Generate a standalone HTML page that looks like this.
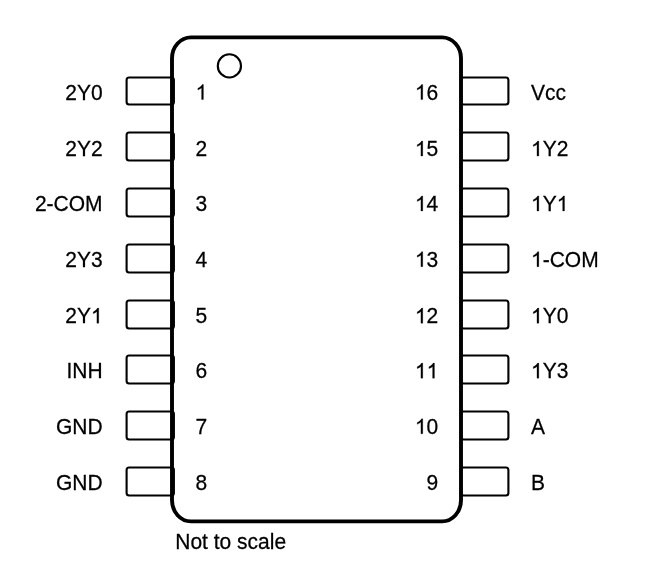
<!DOCTYPE html>
<html><head><meta charset="utf-8"><style>
html,body{margin:0;padding:0;background:#fff;}
svg{display:block;will-change:transform;}
text{font-family:"Liberation Sans",sans-serif;font-size:21.0px;fill:#000;}
</style></head><body>
<svg width="655" height="563" viewBox="0 0 655 563">
<rect x="0" y="0" width="655" height="563" fill="#fff"/>
<g fill="none" stroke="#000" stroke-width="2.1">
<rect x="126.6" y="77.50" width="47.3" height="27" rx="2.5" ry="2.5"/>
<rect x="461.1" y="77.50" width="47.3" height="27" rx="2.5" ry="2.5"/>
<rect x="126.6" y="132.50" width="47.3" height="28" rx="2.5" ry="2.5"/>
<rect x="461.1" y="132.50" width="47.3" height="28" rx="2.5" ry="2.5"/>
<rect x="126.6" y="188.50" width="47.3" height="28" rx="2.5" ry="2.5"/>
<rect x="461.1" y="188.50" width="47.3" height="28" rx="2.5" ry="2.5"/>
<rect x="126.6" y="244.50" width="47.3" height="28" rx="2.5" ry="2.5"/>
<rect x="461.1" y="244.50" width="47.3" height="28" rx="2.5" ry="2.5"/>
<rect x="126.6" y="300.50" width="47.3" height="28" rx="2.5" ry="2.5"/>
<rect x="461.1" y="300.50" width="47.3" height="28" rx="2.5" ry="2.5"/>
<rect x="126.6" y="355.50" width="47.3" height="28" rx="2.5" ry="2.5"/>
<rect x="461.1" y="355.50" width="47.3" height="28" rx="2.5" ry="2.5"/>
<rect x="126.6" y="411.50" width="47.3" height="28" rx="2.5" ry="2.5"/>
<rect x="461.1" y="411.50" width="47.3" height="28" rx="2.5" ry="2.5"/>
<rect x="126.6" y="467.50" width="47.3" height="28" rx="2.5" ry="2.5"/>
<rect x="461.1" y="467.50" width="47.3" height="28" rx="2.5" ry="2.5"/>
</g>
<rect x="172" y="37.35" width="289" height="484" rx="19" ry="21" fill="none" stroke="#000" stroke-width="3.9"/>
<circle cx="229.4" cy="65.9" r="11.6" fill="none" stroke="#000" stroke-width="2.1"/>
<g fill="#000" stroke="#000" stroke-width="0.25">
<text transform="translate(65.23,99.60) scale(1,1.04)">2Y0</text>
<path transform="translate(195.60,99.60) scale(0.010254,-0.010254)" d="M763 0L583 0L583 1147Q518 1085 412 1023Q306 961 222 930L222 1104Q373 1175 486 1276Q599 1377 646 1472L763 1472Z" vector-effect="non-scaling-stroke"/>
<path transform="translate(414.94,99.60) scale(0.010254,-0.010254)" d="M763 0L583 0L583 1147Q518 1085 412 1023Q306 961 222 930L222 1104Q373 1175 486 1276Q599 1377 646 1472L763 1472Z" vector-effect="non-scaling-stroke"/>
<text transform="translate(426.62,99.60) scale(1,1.04)">6</text>
<text transform="translate(531.00,99.60) scale(1,1.04)">Vcc</text>
<text transform="translate(65.23,156.10) scale(1,1.04)">2Y2</text>
<text transform="translate(195.60,156.10) scale(1,1.04)">2</text>
<path transform="translate(414.94,156.10) scale(0.010254,-0.010254)" d="M763 0L583 0L583 1147Q518 1085 412 1023Q306 961 222 930L222 1104Q373 1175 486 1276Q599 1377 646 1472L763 1472Z" vector-effect="non-scaling-stroke"/>
<text transform="translate(426.62,156.10) scale(1,1.04)">5</text>
<path transform="translate(531.00,156.10) scale(0.010254,-0.010254)" d="M763 0L583 0L583 1147Q518 1085 412 1023Q306 961 222 930L222 1104Q373 1175 486 1276Q599 1377 646 1472L763 1472Z" vector-effect="non-scaling-stroke"/>
<text transform="translate(542.68,156.10) scale(1,1.04)">Y2</text>
<text transform="translate(34.93,211.00) scale(1,1.04)">2-COM</text>
<text transform="translate(195.60,211.00) scale(1,1.04)">3</text>
<path transform="translate(414.94,211.00) scale(0.010254,-0.010254)" d="M763 0L583 0L583 1147Q518 1085 412 1023Q306 961 222 930L222 1104Q373 1175 486 1276Q599 1377 646 1472L763 1472Z" vector-effect="non-scaling-stroke"/>
<text transform="translate(426.62,211.00) scale(1,1.04)">4</text>
<path transform="translate(531.00,211.00) scale(0.010254,-0.010254)" d="M763 0L583 0L583 1147Q518 1085 412 1023Q306 961 222 930L222 1104Q373 1175 486 1276Q599 1377 646 1472L763 1472Z" vector-effect="non-scaling-stroke"/>
<text transform="translate(542.68,211.00) scale(1,1.04)">Y</text>
<path transform="translate(556.69,211.00) scale(0.010254,-0.010254)" d="M763 0L583 0L583 1147Q518 1085 412 1023Q306 961 222 930L222 1104Q373 1175 486 1276Q599 1377 646 1472L763 1472Z" vector-effect="non-scaling-stroke"/>
<text transform="translate(65.23,266.73) scale(1,1.04)">2Y3</text>
<text transform="translate(195.60,266.73) scale(1,1.04)">4</text>
<path transform="translate(414.94,266.73) scale(0.010254,-0.010254)" d="M763 0L583 0L583 1147Q518 1085 412 1023Q306 961 222 930L222 1104Q373 1175 486 1276Q599 1377 646 1472L763 1472Z" vector-effect="non-scaling-stroke"/>
<text transform="translate(426.62,266.73) scale(1,1.04)">3</text>
<path transform="translate(531.00,266.73) scale(0.010254,-0.010254)" d="M763 0L583 0L583 1147Q518 1085 412 1023Q306 961 222 930L222 1104Q373 1175 486 1276Q599 1377 646 1472L763 1472Z" vector-effect="non-scaling-stroke"/>
<text transform="translate(542.68,266.73) scale(1,1.04)">-COM</text>
<text transform="translate(65.23,323.20) scale(1,1.04)">2Y</text>
<path transform="translate(90.92,323.20) scale(0.010254,-0.010254)" d="M763 0L583 0L583 1147Q518 1085 412 1023Q306 961 222 930L222 1104Q373 1175 486 1276Q599 1377 646 1472L763 1472Z" vector-effect="non-scaling-stroke"/>
<text transform="translate(195.60,323.20) scale(1,1.04)">5</text>
<path transform="translate(414.94,323.20) scale(0.010254,-0.010254)" d="M763 0L583 0L583 1147Q518 1085 412 1023Q306 961 222 930L222 1104Q373 1175 486 1276Q599 1377 646 1472L763 1472Z" vector-effect="non-scaling-stroke"/>
<text transform="translate(426.62,323.20) scale(1,1.04)">2</text>
<path transform="translate(531.00,323.20) scale(0.010254,-0.010254)" d="M763 0L583 0L583 1147Q518 1085 412 1023Q306 961 222 930L222 1104Q373 1175 486 1276Q599 1377 646 1472L763 1472Z" vector-effect="non-scaling-stroke"/>
<text transform="translate(542.68,323.20) scale(1,1.04)">Y0</text>
<text transform="translate(66.43,378.15) scale(1,1.04)">INH</text>
<text transform="translate(195.60,378.15) scale(1,1.04)">6</text>
<path transform="translate(414.94,378.15) scale(0.010254,-0.010254)" d="M763 0L583 0L583 1147Q518 1085 412 1023Q306 961 222 930L222 1104Q373 1175 486 1276Q599 1377 646 1472L763 1472Z" vector-effect="non-scaling-stroke"/>
<path transform="translate(426.62,378.15) scale(0.010254,-0.010254)" d="M763 0L583 0L583 1147Q518 1085 412 1023Q306 961 222 930L222 1104Q373 1175 486 1276Q599 1377 646 1472L763 1472Z" vector-effect="non-scaling-stroke"/>
<path transform="translate(531.00,378.15) scale(0.010254,-0.010254)" d="M763 0L583 0L583 1147Q518 1085 412 1023Q306 961 222 930L222 1104Q373 1175 486 1276Q599 1377 646 1472L763 1472Z" vector-effect="non-scaling-stroke"/>
<text transform="translate(542.68,378.15) scale(1,1.04)">Y3</text>
<text transform="translate(55.93,433.86) scale(1,1.04)">GND</text>
<text transform="translate(195.60,433.86) scale(1,1.04)">7</text>
<path transform="translate(414.94,433.86) scale(0.010254,-0.010254)" d="M763 0L583 0L583 1147Q518 1085 412 1023Q306 961 222 930L222 1104Q373 1175 486 1276Q599 1377 646 1472L763 1472Z" vector-effect="non-scaling-stroke"/>
<text transform="translate(426.62,433.86) scale(1,1.04)">0</text>
<text transform="translate(531.00,433.86) scale(1,1.04)">A</text>
<text transform="translate(55.93,489.57) scale(1,1.04)">GND</text>
<text transform="translate(195.60,489.57) scale(1,1.04)">8</text>
<text transform="translate(426.62,489.57) scale(1,1.04)">9</text>
<text transform="translate(531.00,489.57) scale(1,1.04)">B</text>
<text transform="translate(175.30,549.00) scale(1,1.04)">Not to scale</text>
</g>
</svg>
</body></html>
